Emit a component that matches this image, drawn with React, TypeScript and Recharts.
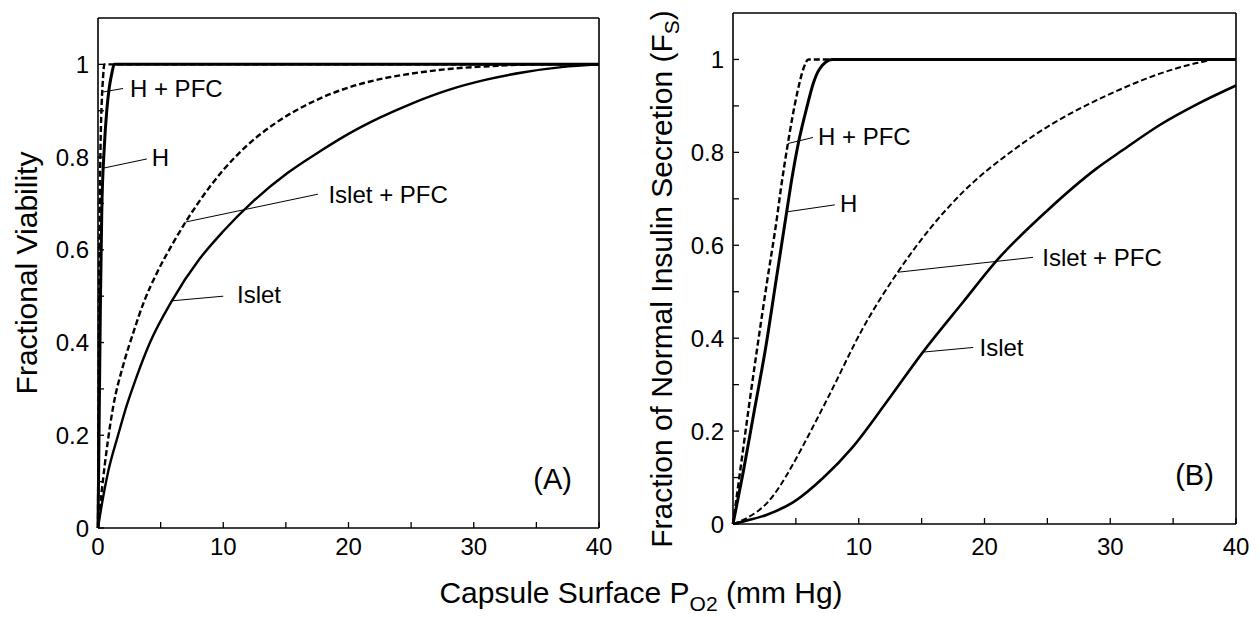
import { LineChart, Line, XAxis, YAxis, ReferenceLine, ReferenceDot } from "recharts";

const FONT = '"Liberation Sans", Arial, Helvetica, sans-serif';

const xTicks = [0, 5, 10, 15, 20, 25, 30, 35, 40];
const yTicks = [0, 0.1, 0.2, 0.3, 0.4, 0.5, 0.6, 0.7, 0.8, 0.9, 1];

// (A) fractional viability vs capsule surface PO2
const viabH = [[0, 0], [0.1, 0.25], [0.2, 0.5], [0.3, 0.68], [0.5, 0.82], [0.7, 0.9], [0.9, 0.95], [1.1, 0.98], [1.3, 1], [40, 1]];
const viabHPfc = [[0, 0], [0.05, 0.3], [0.1, 0.55], [0.15, 0.72], [0.2, 0.82], [0.3, 0.92], [0.4, 0.97], [0.5, 1], [40, 1]];
const viabIslet = [[0, 0], [0.3, 0.05], [0.8, 0.12], [1.6, 0.2], [2.3, 0.265], [3, 0.32], [4.15, 0.4], [5.9, 0.49], [8.1, 0.58], [10, 0.64], [12.4, 0.705], [15.1, 0.765], [17.7, 0.812], [20, 0.85], [22.5, 0.885], [25, 0.915], [28, 0.945], [31, 0.967], [34, 0.983], [37, 0.994], [40, 1]];
const viabIsletPfc = [[0, 0], [0.3, 0.08], [0.8, 0.19], [1.2, 0.26], [2, 0.35], [2.8, 0.42], [3.7, 0.49], [4.7, 0.55], [6, 0.615], [7, 0.66], [8.9, 0.735], [10, 0.772], [11.9, 0.825], [14, 0.87], [17.2, 0.92], [20, 0.95], [22.5, 0.968], [25, 0.98], [28, 0.99], [32, 0.997], [35, 1], [40, 1]];

// (B) fraction of normal insulin secretion
const secH = [[0, 0], [0.8, 0.11], [1.7, 0.245], [2.6, 0.38], [3.4, 0.52], [4.2, 0.66], [4.6, 0.73], [5.2, 0.82], [5.9, 0.9], [6.4, 0.95], [6.9, 0.98], [7.9, 1], [40, 1]];
const secHPfc = [[0, 0], [0.5, 0.1], [1.2, 0.24], [1.9, 0.374], [2.7, 0.52], [3.5, 0.66], [3.8, 0.72], [4.37, 0.82], [5.1, 0.927], [5.6, 0.98], [6, 1], [40, 1]];
const secIslet = [[0, 0], [0.56, 0.004], [2.7, 0.02], [4.8, 0.047], [7.2, 0.1], [9.5, 0.165], [12.2, 0.262], [15.1, 0.37], [18.3, 0.478], [21, 0.568], [25, 0.675], [28.9, 0.765], [31, 0.805], [34, 0.86], [37, 0.905], [40, 0.944]];
const secIsletPfc = [[0, 0], [1.1, 0.013], [2.7, 0.045], [4.8, 0.13], [5.5, 0.165], [7.7, 0.28], [10.3, 0.42], [13.1, 0.542], [15.7, 0.637], [18.3, 0.715], [22.3, 0.805], [25, 0.855], [28, 0.9], [31, 0.938], [34, 0.97], [37, 0.993], [38.5, 1], [40, 1]];

// callouts: label text, leader line ends, label anchor
const notesA = [
  { text: "H + PFC", from: [0.32, 0.94], to: [2.0, 0.948], at: [2.55, 0.948] },
  { text: "H", from: [0.4, 0.776], to: [3.9, 0.796], at: [4.3, 0.8] },
  { text: "Islet + PFC", from: [7.0, 0.66], to: [17.56, 0.72], at: [18.4, 0.72] },
  { text: "Islet", from: [5.9, 0.49], to: [10.0, 0.5], at: [11.1, 0.503] },
];
const notesB = [
  { text: "H + PFC", from: [4.37, 0.819], to: [6.36, 0.832], at: [6.76, 0.834] },
  { text: "H", from: [4.3, 0.672], to: [8.1, 0.687], at: [8.5, 0.69] },
  { text: "Islet + PFC", from: [13.12, 0.542], to: [23.86, 0.574], at: [24.6, 0.574] },
  { text: "Islet", from: [15.1, 0.37], to: [19.1, 0.38], at: [19.6, 0.38] },
];

const pts = (arr: number[][]) => arr.map(([x, y]) => ({ x, y }));

const TL = 6;
const TICK_W = 1.3;

function mkTick(side: string, opts: { showZero?: boolean; dy?: number } = {}) {
  return (p: any) => {
    const { x, y, payload } = p;
    const v = payload.value;
    if (side === "bottom") {
      const lab = v % 10 === 0 && (opts.showZero || v !== 0);
      return (
        <g>
          <line x1={x} x2={x} y1={y} y2={y - TL} stroke="#000" strokeWidth={TICK_W} />
          {lab && (
            <text x={x} y={y + (opts.dy || 27)} textAnchor="middle" fontSize={24} fill="#000">
              {v}
            </text>
          )}
        </g>
      );
    }
    if (side === "top") {
      return <line x1={x} x2={x} y1={y} y2={y + TL} stroke="#000" strokeWidth={TICK_W} />;
    }
    if (side === "left") {
      const lab = Math.round(v * 10) % 2 === 0;
      return (
        <g>
          <line x1={x} x2={x + TL} y1={y} y2={y} stroke="#000" strokeWidth={TICK_W} />
          {lab && (
            <text x={x - 9} y={y + 8.5} textAnchor="end" fontSize={24} fill="#000">
              {v}
            </text>
          )}
        </g>
      );
    }
    return <line x1={x} x2={x - TL} y1={y} y2={y} stroke="#000" strokeWidth={TICK_W} />;
  };
}

type Series = { data: number[][]; dashed: boolean; w: number };

function Panel({ left, width, margin, series, notes, tag, tagAt, showZero, dy }: any) {
  const axisLine = { stroke: "#000", strokeWidth: 1.6 };
  return (
    <div style={{ position: "absolute", left, top: 0 }}>
      <LineChart width={width} height={617} margin={margin}>
        <XAxis xAxisId="b" type="number" dataKey="x" domain={[0, 40]} ticks={xTicks} interval={0}
          height={1} tickSize={0} tickMargin={0} axisLine={axisLine} tick={mkTick("bottom", { showZero, dy })} />
        <XAxis xAxisId="t" orientation="top" type="number" dataKey="x" domain={[0, 40]} ticks={xTicks} interval={0}
          height={1} tickSize={0} tickMargin={0} axisLine={axisLine} tick={mkTick("top")} />
        <YAxis yAxisId="l" type="number" domain={[0, 1.1]} ticks={yTicks} interval={0}
          width={1} tickSize={0} tickMargin={0} axisLine={axisLine} tick={mkTick("left")} />
        <YAxis yAxisId="r" orientation="right" type="number" domain={[0, 1.1]} ticks={yTicks} interval={0}
          width={1} tickSize={0} tickMargin={0} axisLine={axisLine} tick={mkTick("right")} />
        {series.map((s: Series, i: number) => (
          <Line key={i} xAxisId="b" yAxisId="l" data={pts(s.data)} dataKey="y" type="monotone"
            stroke="#000" strokeWidth={s.w} strokeDasharray={s.dashed ? "6 3" : undefined}
            dot={false} activeDot={false} isAnimationActive={false} />
        ))}
        {notes.map((n: any, i: number) => (
          <ReferenceLine key={"l" + i} xAxisId="b" yAxisId="l" stroke="#000" strokeWidth={1}
            segment={[{ x: n.from[0], y: n.from[1] }, { x: n.to[0], y: n.to[1] }]} />
        ))}
        {notes.map((n: any, i: number) => (
          <ReferenceDot key={"t" + i} xAxisId="b" yAxisId="l" x={n.at[0]} y={n.at[1]} r={0}
            fill="none" stroke="none"
            label={{ value: n.text, position: "right", offset: 0, fontSize: 24, fill: "#000" }} />
        ))}
        <ReferenceDot xAxisId="b" yAxisId="l" x={tagAt[0]} y={tagAt[1]} r={0} fill="none" stroke="none"
          label={{ value: tag, position: "center", offset: 0, fontSize: 29, fill: "#000" }} />
      </LineChart>
    </div>
  );
}

export default function App() {
  const seriesA: Series[] = [
    { data: viabIsletPfc, dashed: true, w: 2.4 },
    { data: viabIslet, dashed: false, w: 2.4 },
    { data: viabHPfc, dashed: true, w: 2.4 },
    { data: viabH, dashed: false, w: 3 },
  ];
  const seriesB: Series[] = [
    { data: secIsletPfc, dashed: true, w: 2 },
    { data: secIslet, dashed: false, w: 2.6 },
    { data: secHPfc, dashed: true, w: 2.4 },
    { data: secH, dashed: false, w: 3 },
  ];
  return (
    <div style={{ position: "absolute", left: 0, top: 0, width: 1260, height: 617, background: "#fff", fontFamily: FONT }}>
      <Panel left={0} width={640} margin={{ top: 17, right: 40, bottom: 88, left: 97 }}
        series={seriesA} notes={notesA} tag="(A)" tagAt={[36.3, 0.107]} showZero dy={27} />
      <Panel left={640} width={620} margin={{ top: 12, right: 23, bottom: 92, left: 92 }}
        series={seriesB} notes={notesB} tag="(B)" tagAt={[36.7, 0.107]} showZero={false} dy={31} />
      <svg width={1260} height={617} style={{ position: "absolute", left: 0, top: 0, pointerEvents: "none" }}>
        <text transform="translate(37,273) rotate(-90)" textAnchor="middle" fontSize={30} fill="#000">
          Fractional Viability
        </text>
        <text transform="translate(672,279) rotate(-90)" textAnchor="middle" fontSize={30} fill="#000">
          Fraction of Normal Insulin Secretion (F<tspan dy={7} fontSize={21}>S</tspan><tspan dy={-7}>)</tspan>
        </text>
        <text x={641} y={603} textAnchor="middle" fontSize={30} fill="#000">
          Capsule Surface P<tspan dy={8} fontSize={21}>O2</tspan><tspan dy={-8}>{" (mm Hg)"}</tspan>
        </text>
      </svg>
    </div>
  );
}
